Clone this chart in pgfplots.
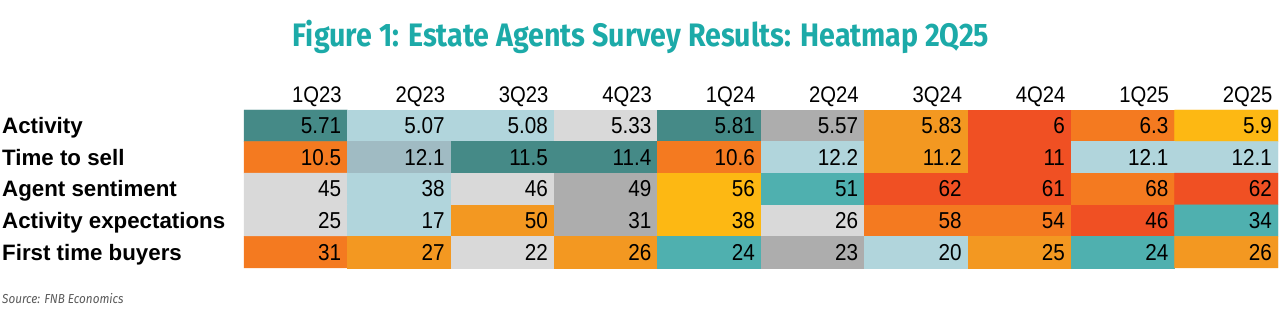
\documentclass[border=0pt]{standalone}
\usepackage{pgfplots}
\pgfplotsset{compat=1.18}
\usepackage{fontspec}
\setmainfont{Liberation Sans}
\newfontfamily\numfont[FakeStretch=0.9]{Liberation Sans}
\newfontfamily\titlefont[FakeStretch=0.88]{Fira Sans}
\newfontfamily\srcfont[FakeStretch=0.9]{Fira Sans}
\definecolor{titleteal}{RGB}{28,170,168}
\begin{document}
\begin{tikzpicture}
\useasboundingbox (0,0) rectangle (1280pt,331pt);
\node[font=\titlefont\bfseries\fontsize{32.5}{38}\selectfont, text=titleteal] at (641pt,294pt) {Figure 1: Estate Agents Survey Results: Heatmap 2Q25};
\node[font=\srcfont\itshape\fontsize{13}{15}\selectfont, text=black!65, anchor=base west, inner sep=0] at (2pt,27pt) {Source: FNB Economics};
\begin{axis}[
  at={(244pt,63pt)}, anchor=south west,
  width=1034pt, height=158pt, scale only axis,
  xmin=0, xmax=10, ymin=0, ymax=5,
  enlargelimits=false, clip=false,
  axis line style={draw=none}, tick style={draw=none},
  major tick length=0pt,
  xtick={1,2,3,4,5,6,7,8,9,10},
  xticklabels={1Q23,2Q23,3Q23,4Q23,1Q24,2Q24,3Q24,4Q24,1Q25,2Q25},
  xticklabel pos=upper,
  xticklabel style={anchor=base east, inner sep=0pt, xshift=-5.5pt, yshift=7pt, font=\numfont\fontsize{22.5}{25}\selectfont},
  ytick={4.253,3.253,2.253,1.253,0.253},
  yticklabels={Activity,Time to sell,Agent sentiment,Activity expectations,First time buyers},
  yticklabel style={anchor=base west, inner sep=0pt, xshift=-242pt, font=\bfseries\fontsize{22.3}{25}\selectfont},
  colormap={heat}{rgb255=(69,138,135) rgb255=(177,213,220) rgb255=(217,217,217) rgb255=(160,187,195) rgb255=(173,173,173) rgb255=(244,122,32) rgb255=(243,152,33) rgb255=(253,184,19) rgb255=(240,80,35) rgb255=(79,176,175)},
]
\addplot[matrix plot*, mesh/cols=10, mesh/rows=5, point meta=explicit, colormap access=direct] table[x=x, y=y, meta=c] {
x y c v
0.5 4.5 0 5.71
1.5 4.5 1 5.07
2.5 4.5 1 5.08
3.5 4.5 2 5.33
4.5 4.5 0 5.81
5.5 4.5 4 5.57
6.5 4.5 6 5.83
7.5 4.5 8 6
8.5 4.5 5 6.3
9.5 4.5 7 5.9
0.5 3.5 5 10.5
1.5 3.5 3 12.1
2.5 3.5 0 11.5
3.5 3.5 0 11.4
4.5 3.5 5 10.6
5.5 3.5 1 12.2
6.5 3.5 6 11.2
7.5 3.5 8 11
8.5 3.5 1 12.1
9.5 3.5 1 12.1
0.5 2.5 2 45
1.5 2.5 1 38
2.5 2.5 2 46
3.5 2.5 4 49
4.5 2.5 7 56
5.5 2.5 9 51
6.5 2.5 8 62
7.5 2.5 8 61
8.5 2.5 5 68
9.5 2.5 8 62
0.5 1.5 2 25
1.5 1.5 1 17
2.5 1.5 6 50
3.5 1.5 4 31
4.5 1.5 7 38
5.5 1.5 2 26
6.5 1.5 5 58
7.5 1.5 5 54
8.5 1.5 8 46
9.5 1.5 9 34
0.5 0.5 5 31
1.5 0.5 6 27
2.5 0.5 2 22
3.5 0.5 6 26
4.5 0.5 9 24
5.5 0.5 4 23
6.5 0.5 1 20
7.5 0.5 6 25
8.5 0.5 9 24
9.5 0.5 6 26
};
\addplot[draw=none, mark=none, nodes near coords, point meta=explicit symbolic,
  nodes near coords style={anchor=east, inner sep=0pt, xshift=-6pt, text=black, font=\numfont\fontsize{23}{26}\selectfont}]
  table[x expr=\thisrow{x}+0.5, y=y, meta=v] {
x y v
0.5 4.5 5.71
1.5 4.5 5.07
2.5 4.5 5.08
3.5 4.5 5.33
4.5 4.5 5.81
5.5 4.5 5.57
6.5 4.5 5.83
7.5 4.5 6
8.5 4.5 6.3
9.5 4.5 5.9
0.5 3.5 10.5
1.5 3.5 12.1
2.5 3.5 11.5
3.5 3.5 11.4
4.5 3.5 10.6
5.5 3.5 12.2
6.5 3.5 11.2
7.5 3.5 11
8.5 3.5 12.1
9.5 3.5 12.1
0.5 2.5 45
1.5 2.5 38
2.5 2.5 46
3.5 2.5 49
4.5 2.5 56
5.5 2.5 51
6.5 2.5 62
7.5 2.5 61
8.5 2.5 68
9.5 2.5 62
0.5 1.5 25
1.5 1.5 17
2.5 1.5 50
3.5 1.5 31
4.5 1.5 38
5.5 1.5 26
6.5 1.5 58
7.5 1.5 54
8.5 1.5 46
9.5 1.5 34
0.5 0.5 31
1.5 0.5 27
2.5 0.5 22
3.5 0.5 26
4.5 0.5 24
5.5 0.5 23
6.5 0.5 20
7.5 0.5 25
8.5 0.5 24
9.5 0.5 26
};
\end{axis}
\end{tikzpicture}
\end{document}
